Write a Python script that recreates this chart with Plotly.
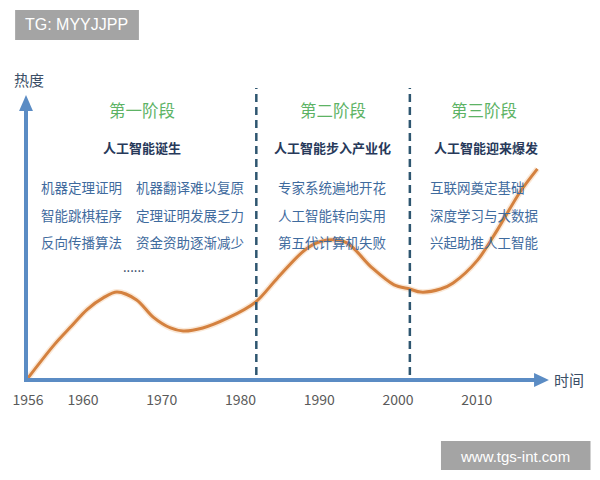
import plotly.graph_objects as go

# ---------------- data ----------------
years = [1953.0, 1956.35, 1958.5, 1960.5, 1962.6, 1964.3, 1966.8, 1968.9, 1971.1,
         1972.7, 1975.2, 1978.4, 1981.9, 1984.7, 1988.5, 1991.0, 1993.5, 1996.6, 1999.5,
         2001.5, 2002.9, 2005.4, 2007.0, 2010.1, 2012.6, 2015.5, 2017.7]
heat = [0.0, 12.0, 18.6, 24.6, 28.9, 30.9, 28.1, 21.9, 18.0,
        16.9, 18.0, 21.6, 27.3, 36.0, 46.8, 49.6, 48.6, 39.9, 33.5,
        32.0, 30.9, 32.0, 34.2, 42.4, 53.2, 66.9, 75.2]

axis_start = 1953.0
tick_years = [1960, 1970, 1980, 1990, 2000, 2010]
tick_labels = ["1956", "1960", "1970", "1980", "1990", "2000", "2010"]
stage_bounds = [1982.0, 2001.5]

stage_titles = ["第一阶段", "第二阶段", "第三阶段"]
stage_subtitles = ["人工智能诞生", "人工智能步入产业化", "人工智能迎来爆发"]
stage1_col1 = ["机器定理证明", "智能跳棋程序", "反向传播算法"]
stage1_col2 = ["机器翻译难以复原", "定理证明发展乏力", "资金资助逐渐减少"]
stage2_items = ["专家系统遍地开花", "人工智能转向实用", "第五代计算机失败"]
stage3_items = ["互联网奠定基础", "深度学习与大数据", "兴起助推人工智能"]

# ---------------- layout geometry (pixels) ----------------
FW, FH = 600, 480
L, R, T, B = 23, 540, 100, 378
PW, PH = R - L, B - T
PX_PER_YEAR = 7.95

FONT = "Noto Sans CJK SC"
AXIS_BLUE = "#5B8CC4"
CURVE = "#D4813F"
GREEN = "#5DB365"
BODY = "#3F6B9E"
SUB = "#27395A"


def px(x):
    return (x - L) / PW


def py(y):
    return (B - y) / PH


fig = go.Figure()

# soft glow under the curve
fig.add_trace(go.Scatter(x=years, y=heat, mode="lines",
                         line=dict(color="rgba(240,190,140,0.35)", width=6,
                                   shape="spline", smoothing=0.9),
                         hoverinfo="skip", showlegend=False))
fig.add_trace(go.Scatter(x=years, y=heat, mode="lines",
                         line=dict(color=CURVE, width=3, shape="spline", smoothing=0.9),
                         showlegend=False))

shapes = []
# stage boundaries
for yr in stage_bounds:
    shapes.append(dict(type="line", xref="x", yref="paper", x0=yr, x1=yr,
                       y0=py(375), y1=py(88),
                       line=dict(color="#2E5670", width=2.5, dash="8px,5px")))
# arrowheads
shapes.append(dict(type="path", xref="paper", yref="paper",
                   path=f"M {px(549)},{py(380)} L {px(534)},{py(373)} L {px(534)},{py(387)} Z",
                   fillcolor=AXIS_BLUE, line=dict(width=0)))
shapes.append(dict(type="path", xref="paper", yref="paper",
                   path=f"M {px(21)},{py(95)} L {px(14)},{py(111)} L {px(28)},{py(111)} Z",
                   fillcolor=AXIS_BLUE, line=dict(width=0)))
# watermark boxes
shapes.append(dict(type="rect", xref="paper", yref="paper",
                   x0=px(10), x1=px(135), y0=py(40), y1=py(10),
                   fillcolor="#A4A4A4", line=dict(width=0)))
shapes.append(dict(type="rect", xref="paper", yref="paper",
                   x0=px(440), x1=px(591), y0=py(470), y1=py(441),
                   fillcolor="#A4A4A4", line=dict(width=0)))

ann = []


def text(t, x, y, size=13.5, color=BODY, anchor="center", bold=False, family=FONT):
    ann.append(dict(text=(f"<b>{t}</b>" if bold else t), x=px(x), y=py(y),
                    xref="paper", yref="paper", showarrow=False,
                    xanchor=anchor, yanchor="middle", borderpad=0, borderwidth=0,
                    font=dict(family=family, size=size, color=color)))


text("热度", 24, 79, size=15, color="#3A4E66")
text("时间", 569, 379, size=15, color="#3A4E66")

title_x = [138, 331, 483]
for t, x in zip(stage_titles, title_x):
    text(t, x, 110, size=16.5, color=GREEN)
sub_x = [138, 330, 485]
for t, x in zip(stage_subtitles, sub_x):
    text(t, x, 147, size=13, color=SUB, bold=True)

row_y = [187, 215, 242]
for t, y in zip(stage1_col1, row_y):
    text(t, 36, y, anchor="left")
for t, y in zip(stage1_col2, row_y):
    text(t, 132, y, anchor="left")
for t, y in zip(stage2_items, row_y):
    text(t, 330, y)
for t, y in zip(stage3_items, row_y):
    text(t, 429, y, anchor="left")
text("......", 130, 266, size=13, color=SUB)

text("TG: MYYJJPP", 72, 25, size=16, color="white", family="Liberation Sans")
text("www.tgs-int.com", 515, 456, size=15, color="white", family="Liberation Sans")

fig.update_layout(
    width=FW, height=FH, autosize=False,
    margin=dict(l=L, r=FW - R, t=T, b=FH - B, pad=0),
    paper_bgcolor="white", plot_bgcolor="white",
    showlegend=False,
    shapes=shapes, annotations=ann,
    xaxis=dict(range=[axis_start, axis_start + PW / PX_PER_YEAR],
               showline=True, linecolor=AXIS_BLUE, linewidth=4,
               showgrid=False, zeroline=False,
               tickvals=[axis_start] + tick_years, ticktext=tick_labels,
               ticks="outside", ticklen=6, tickcolor="rgba(0,0,0,0)",
               tickfont=dict(family=FONT, size=14, color="#5A5A5A"),
               fixedrange=True),
    yaxis=dict(range=[0, 100], showline=True, linecolor=AXIS_BLUE, linewidth=4,
               showgrid=False, zeroline=False, showticklabels=False, ticks="",
               fixedrange=True),
)

fig.write_html("out.html")
